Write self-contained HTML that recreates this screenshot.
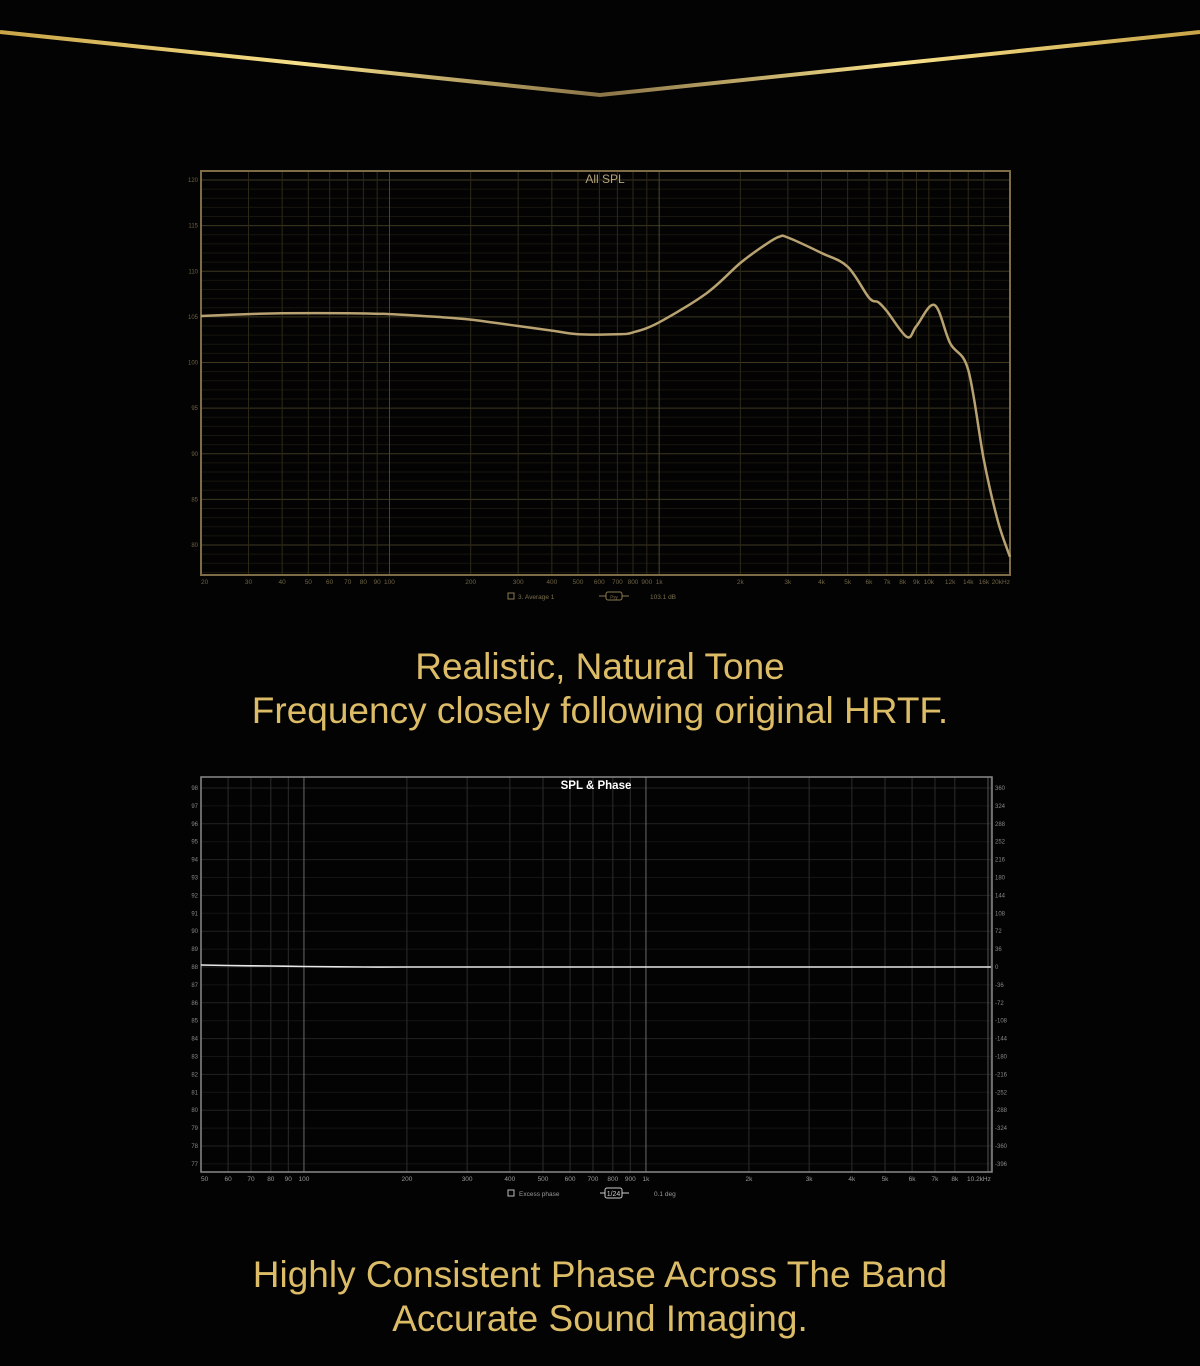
<!DOCTYPE html>
<html><head><meta charset="utf-8">
<style>
html,body{margin:0;padding:0;background:#030303;}
body{width:1200px;height:1366px;position:relative;overflow:hidden;font-family:"Liberation Sans",sans-serif;}
.cap{position:absolute;left:0;width:1200px;text-align:center;color:#dcbc66;font-size:37px;line-height:44px;}
svg text{font-family:"Liberation Sans",sans-serif;}
</style></head>
<body>
<svg width="1200" height="130" style="position:absolute;left:0;top:0">
<defs><linearGradient id="g1" x1="0" x2="1" y1="0" y2="0">
<stop offset="0" stop-color="#c9a548"/><stop offset="0.25" stop-color="#f7e08a"/><stop offset="0.5" stop-color="#8a7448"/><stop offset="0.75" stop-color="#f7e08a"/><stop offset="1" stop-color="#c9a548"/></linearGradient></defs>
<polyline points="0,32 600,95 1200,32" fill="none" stroke="url(#g1)" stroke-width="4"/>
</svg>

<svg id="c1" width="1200" height="620" style="position:absolute;left:0;top:0"></svg>
<div class="cap" style="top:645px">Realistic, Natural Tone<br>Frequency closely following original HRTF.</div>

<svg id="c2" width="1200" height="1220" style="position:absolute;left:0;top:0"></svg>
<div class="cap" style="top:1253px">Highly Consistent Phase Across The Band<br>Accurate Sound Imaging.</div>

<script>
const splFreqs=[20,30,40,70,100,150,200,300,400,500,700,800,1000,1500,2000,2500,2800,3000,4000,5000,6000,6500,7000,8300,9000,10500,12000,14000,16000,18000,20000];
const splValues=[105.1,105.3,105.4,105.4,105.3,105.0,104.7,104.0,103.5,103.1,103.1,103.3,104.4,107.6,110.9,113.0,113.8,113.7,112.0,110.5,107.1,106.6,105.6,102.8,104.0,106.3,102.1,99.2,89.3,82.7,78.7];
const splYTicks=[120,115,110,105,100,95,90,85,80];
const splXTicks=[20,30,40,50,60,70,80,90,100,200,300,400,500,600,700,800,900,1000,2000,3000,4000,5000,6000,7000,8000,9000,10000,12000,14000,16000,20000];
const splXLabels=["20","30","40","50","60","70","80","90","100","200","300","400","500","600","700","800","900","1k","2k","3k","4k","5k","6k","7k","8k","9k","10k","12k","14k","16k","20kHz"];

const phFreqs=[50,60,80,100,150,200,500,1000,2000,5000,10200];
const phValues=[4,3,2,1,0,0,0,0,0,0,0];
const phLeftTicks=[98,97,96,95,94,93,92,91,90,89,88,87,86,85,84,83,82,81,80,79,78,77];
const phRightTicks=[360,324,288,252,216,180,144,108,72,36,0,-36,-72,-108,-144,-180,-216,-252,-288,-324,-360,-396];
const phXTicks=[50,60,70,80,90,100,200,300,400,500,600,700,800,900,1000,2000,3000,4000,5000,6000,7000,8000,10200];
const phXLabels=["50","60","70","80","90","100","200","300","400","500","600","700","800","900","1k","2k","3k","4k","5k","6k","7k","8k","10.2kHz"];

const NS="http://www.w3.org/2000/svg";
function mk(p,t,a){const e=document.createElementNS(NS,t);for(const k in a)e.setAttribute(k,a[k]);p.appendChild(e);return e;}
function smooth(pts){let d='M'+pts[0][0].toFixed(1)+','+pts[0][1].toFixed(1);
for(let i=0;i<pts.length-1;i++){const p0=pts[Math.max(0,i-1)],p1=pts[i],p2=pts[i+1],p3=pts[Math.min(pts.length-1,i+2)];
const c1=[p1[0]+(p2[0]-p0[0])/6,p1[1]+(p2[1]-p0[1])/6],c2=[p2[0]-(p3[0]-p1[0])/6,p2[1]-(p3[1]-p1[1])/6];
d+='C'+c1.map(v=>v.toFixed(1)).join(',')+' '+c2.map(v=>v.toFixed(1)).join(',')+' '+p2.map(v=>v.toFixed(1)).join(',');}
return d;}

// chart 1
(function(){
const s=document.getElementById('c1');
const L=201,R=1010,T=171,B=575;
const x=f=>L+Math.log10(f/20)/3*(R-L);
const y=v=>180+(120-v)*9.125;
for(let v=77;v<=121;v++){const g=mk(s,'line',{x1:L,x2:R,y1:y(v),y2:y(v),stroke:v%5==0?'#3e3820':'#17150d','stroke-width':1});
}
splXTicks.forEach((f,i)=>{const major=[100,1000].includes(f);
const g=mk(s,'line',{x1:x(f),x2:x(f),y1:T,y2:B,stroke:major?'#4e4528':'#2e2917','stroke-width':1});

const t=mk(s,'text',{x:x(f),y:584,fill:'#6e6344','font-size':6.5,'text-anchor':i==0?'start':(i==splXTicks.length-1?'end':'middle')});t.textContent=splXLabels[i];
});
splYTicks.forEach(v=>{const t=mk(s,'text',{x:198,y:y(v)+2,fill:'#6e6344','font-size':6,'text-anchor':'end'});t.textContent=v;
});
const fr=mk(s,'rect',{x:L,y:T,width:R-L,height:B-T,fill:'none',stroke:'#7d6c45','stroke-width':2});

const ti=mk(s,'text',{x:605,y:183,fill:'#b7a47a','font-size':12,'text-anchor':'middle'});ti.textContent='All SPL';

const pts=splFreqs.map((f,i)=>[x(f),y(splValues[i])]);
const p=mk(s,'path',{d:smooth(pts),fill:'none',stroke:'#b8a271','stroke-width':2.5,'stroke-linejoin':'round'});

const cb=mk(s,'rect',{x:508,y:593,width:6,height:6,fill:'none',stroke:'#8a7a50'});

const lt=mk(s,'text',{x:518,y:599,fill:'#7a6e4c','font-size':6.5});lt.textContent='3. Average 1';

mk(s,'line',{x1:599,x2:629,y1:596,y2:596,stroke:'#8a7a50'});
const sm=mk(s,'rect',{x:606,y:592,width:16,height:8,rx:2,fill:'#000',stroke:'#8a7a50'});

const st=mk(s,'text',{x:614,y:598.5,fill:'#8a7a50','font-size':4.5,'text-anchor':'middle'});st.textContent='Psy';

const vt=mk(s,'text',{x:650,y:599,fill:'#7a6e4c','font-size':6.5});vt.textContent='103.1 dB';

})();

// chart 2
(function(){
const s=document.getElementById('c2');
const L=201,R=992,T=777,B=1172;
const x=f=>L+Math.log10(f/50)*342;
const y=i=>788+i*17.9;
const yPh=p=>788+(360-p)/36*17.9;
phLeftTicks.forEach((v,i)=>{const g=mk(s,'line',{x1:L,x2:R,y1:y(i),y2:y(i),stroke:i%2==0?'#222':'#141414','stroke-width':1});

const t=mk(s,'text',{x:198,y:y(i)+2,fill:'#888','font-size':6,'text-anchor':'end'});t.textContent=v;

const t2=mk(s,'text',{x:995,y:y(i)+2,fill:'#888','font-size':6});t2.textContent=phRightTicks[i];
});
phXTicks.forEach((f,i)=>{const major=[100,1000].includes(f);
const g=mk(s,'line',{x1:x(f),x2:x(f),y1:T,y2:B,stroke:major?'#6a6a6a':'#2c2c2c','stroke-width':1});

const t=mk(s,'text',{x:x(f),y:1181,fill:'#9a9a9a','font-size':6.5,'text-anchor':i==0?'start':(i==phXTicks.length-1?'end':'middle')});t.textContent=phXLabels[i];
});
mk(s,'line',{x1:988,x2:988,y1:T,y2:B,stroke:'#555'});
const fr=mk(s,'rect',{x:L,y:T,width:R-L,height:B-T,fill:'none',stroke:'#8a8a8a','stroke-width':1.5});

const ti=mk(s,'text',{x:596,y:789,fill:'#ffffff','font-size':11.5,'font-weight':'bold','text-anchor':'middle'});ti.textContent='SPL & Phase';

const pts=phFreqs.map((f,i)=>[x(f),yPh(phValues[i])]);
const p=mk(s,'path',{d:smooth(pts),fill:'none',stroke:'#e8e8e8','stroke-width':1.6});

const cb=mk(s,'rect',{x:508,y:1190,width:6,height:6,fill:'none',stroke:'#bbb'});

const lt=mk(s,'text',{x:519,y:1196,fill:'#999','font-size':6.5});lt.textContent='Excess phase';

mk(s,'line',{x1:600,x2:629,y1:1193,y2:1193,stroke:'#ccc'});
const sm=mk(s,'rect',{x:605,y:1188,width:17,height:10,rx:2,fill:'#000',stroke:'#ccc'});

const st=mk(s,'text',{x:613.5,y:1196,fill:'#ccc','font-size':7,'text-anchor':'middle'});st.textContent='1/24';

const vt=mk(s,'text',{x:654,y:1196,fill:'#999','font-size':6.5});vt.textContent='0.1 deg';

})();
</script>
</body></html>
